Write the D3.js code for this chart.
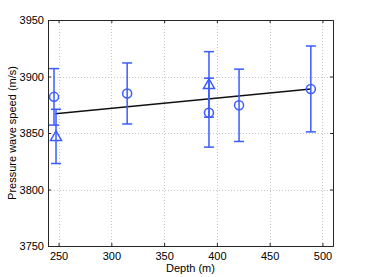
<!DOCTYPE html>
<html>
<head>
<meta charset="utf-8">
<script src="https://cdn.jsdelivr.net/npm/d3@7"></script>
<style>
body { margin: 0; background: #fff; }
text { font-family: "Liberation Sans", Arial, sans-serif; font-size: 11px; fill: #000; }
</style>
</head>
<body>
<svg id="svg" width="368" height="277"></svg>
<script>
// circles: depth, speed, error half-width
const circleDepth = [245.7, 315, 392.5, 421, 489];
const circleSpeed = [3882, 3885, 3868, 3874.5, 3889];
const circleErr = [25, 27, 30.5, 32, 38];

// triangles
const triDepth = [247.6, 392.5];
const triSpeed = [3847, 3893];
const triErr = [24, 29];

// fitted line
const fitDepth = [247, 489];
const fitSpeed = [3867, 3889];

const xTicks = [250, 300, 350, 400, 450, 500];
const yTicks = [3750, 3800, 3850, 3900, 3950];

const margin = { left: 48, right: 35, top: 20, bottom: 31 };
const W = 368, H = 277;
const blue = '#3a5bff';

let svg = d3.select('#svg');
let x = d3.scaleLinear().domain([240, 510]).range([margin.left, W - margin.right]);
let y = d3.scaleLinear().domain([3750, 3950]).range([H - margin.bottom, margin.top]);

let x0 = x.range()[0], x1 = x.range()[1], y0 = y.range()[0], y1 = y.range()[1];

// grid
let grid = svg.append('g').attr('stroke', '#c8c8c8').attr('stroke-width', 1).attr('stroke-dasharray', '1,2');
grid.selectAll('.gx').data(xTicks).enter().append('line')
	.attr('x1', d => Math.round(x(d)) + 0.5).attr('x2', d => Math.round(x(d)) + 0.5)
	.attr('y1', y1).attr('y2', y0);
grid.selectAll('.gy').data(yTicks).enter().append('line')
	.attr('y1', d => Math.round(y(d)) + 0.5).attr('y2', d => Math.round(y(d)) + 0.5)
	.attr('x1', x0).attr('x2', x1);

// axes, ticks inward (matlab-ish)
let fmt = d3.format('d');
let axB = svg.append('g').attr('transform', `translate(0,${y0})`)
	.call(d3.axisBottom(x).tickValues(xTicks).tickSize(-3).tickPadding(6).tickFormat(fmt));
let axT = svg.append('g').attr('transform', `translate(0,${y1})`)
	.call(d3.axisTop(x).tickValues(xTicks).tickSize(-3).tickFormat(''));
let axL = svg.append('g').attr('transform', `translate(${x0},0)`)
	.call(d3.axisLeft(y).tickValues(yTicks).tickSize(-3).tickPadding(4).tickFormat(fmt));
let axR = svg.append('g').attr('transform', `translate(${x1},0)`)
	.call(d3.axisRight(y).tickValues(yTicks).tickSize(-3).tickFormat(''));
[axB, axT, axL, axR].forEach(a => {
	a.attr('font-size', 11).attr('font-family', '"Liberation Sans", Arial, sans-serif');
	a.select('.domain').attr('stroke', '#262626');
	a.selectAll('.tick line').attr('stroke', '#262626');
	a.selectAll('text').attr('fill', '#000');
});

// fit line
svg.append('line')
	.attr('x1', x(fitDepth[0])).attr('y1', y(fitSpeed[0]))
	.attr('x2', x(fitDepth[1])).attr('y2', y(fitSpeed[1]))
	.attr('stroke', '#111').attr('stroke-width', 1.5);

// error bars
function errBars(depths, speeds, errs) {
	let g = svg.append('g').attr('stroke', blue).attr('stroke-width', 1.5).attr('fill', 'none');
	depths.forEach((d, i) => {
		let cx = x(d), top = y(speeds[i] + errs[i]), bot = y(speeds[i] - errs[i]);
		g.append('line').attr('x1', cx).attr('x2', cx).attr('y1', top).attr('y2', bot);
		g.append('line').attr('x1', cx - 5).attr('x2', cx + 5).attr('y1', top).attr('y2', top);
		g.append('line').attr('x1', cx - 5).attr('x2', cx + 5).attr('y1', bot).attr('y2', bot);
	});
	return g;
}
let gc = errBars(circleDepth, circleSpeed, circleErr);
circleDepth.forEach((d, i) => {
	gc.append('circle').attr('cx', x(d)).attr('cy', y(circleSpeed[i])).attr('r', 4.5);
});
let gt = errBars(triDepth, triSpeed, triErr);
triDepth.forEach((d, i) => {
	let cx = x(d), cy = y(triSpeed[i]);
	gt.append('path').attr('d', `M${cx},${cy - 5.5}L${cx + 5.5},${cy + 4}L${cx - 5.5},${cy + 4}Z`);
});

// labels
svg.append('text').attr('x', (x0 + x1) / 2).attr('y', 272).attr('text-anchor', 'middle').text('Depth (m)');
svg.append('text').attr('transform', `translate(16,${(y0 + y1) / 2}) rotate(-90)`)
	.attr('text-anchor', 'middle').text('Pressure wave speed (m/s)');
</script>
</body>
</html>
